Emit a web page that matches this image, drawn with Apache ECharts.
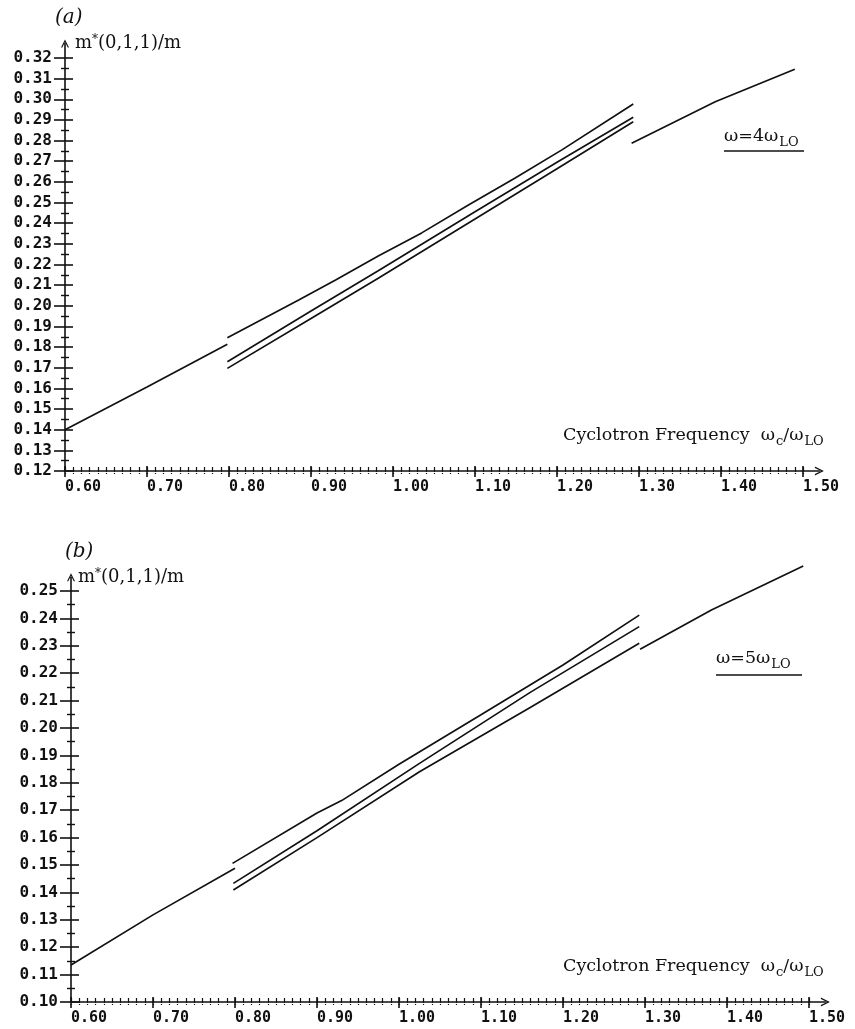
<!DOCTYPE html>
<html><head><meta charset="utf-8">
<script src="https://cdn.jsdelivr.net/npm/echarts@6/dist/echarts.min.js"></script>
<style>html,body{margin:0;padding:0;background:#fff}#c{width:855px;height:1029px}</style>
</head><body><div id="c"></div>
<script>
// ---- tick labels ----
const xTicks = [0.60,0.70,0.80,0.90,1.00,1.10,1.20,1.30,1.40,1.50];
const yTicksA = [0.12,0.13,0.14,0.15,0.16,0.17,0.18,0.19,0.20,0.21,0.22,0.23,0.24,0.25,0.26,0.27,0.28,0.29,0.30,0.31,0.32];
const yTicksB = [0.10,0.11,0.12,0.13,0.14,0.15,0.16,0.17,0.18,0.19,0.20,0.21,0.22,0.23,0.24,0.25];

// ---- panel (a): omega = 4 omega_LO ----
const aLeft   = [[0.600,0.1400],[0.700,0.1607],[0.798,0.1814]];
const aUpper  = [[0.798,0.1845],[0.885,0.2028],[0.930,0.2125],[0.982,0.2241],[1.035,0.2353],[1.092,0.2488],[1.149,0.2619],[1.206,0.2755],[1.293,0.2977]];
const aMiddle = [[0.798,0.1729],[0.900,0.1975],[0.982,0.2170],[1.100,0.2455],[1.200,0.2695],[1.293,0.2913]];
const aLower  = [[0.798,0.1697],[0.900,0.1938],[0.982,0.2133],[1.100,0.2420],[1.200,0.2664],[1.293,0.2891]];
const aRight  = [[1.291,0.2787],[1.393,0.2988],[1.490,0.3145]];

// ---- panel (b): omega = 5 omega_LO ----
const bLeft   = [[0.600,0.1135],[0.700,0.1318],[0.800,0.1488]];
const bUpper  = [[0.797,0.1506],[0.900,0.1690],[0.930,0.1735],[1.000,0.1868],[1.100,0.2048],[1.200,0.2230],[1.293,0.2412]];
const bMiddle = [[0.798,0.1433],[0.900,0.1625],[1.025,0.1871],[1.160,0.2130],[1.293,0.2370]];
const bLower  = [[0.798,0.1409],[0.900,0.1600],[1.025,0.1840],[1.160,0.2075],[1.293,0.2309]];
const bRight  = [[1.294,0.2287],[1.381,0.2431],[1.493,0.2591]];

// ---- helpers ----
function subdivide(ticks, n){
  const out=[];
  for(let i=0;i<ticks.length-1;i++){
    for(let k=0;k<n;k++){ out.push(+(ticks[i]+(ticks[i+1]-ticks[i])*k/n).toFixed(4)); }
  }
  out.push(ticks[ticks.length-1]);
  return out;
}
const INK='#111';
const ARROW='path://M0,10 L5,0 L10,10 L8.4,10 L5,3.2 L1.6,10 Z';
const monoFont='DejaVu Sans Mono';
const serif='DejaVu Serif';

function makeX(grid){
  const base={type:'value',gridIndex:grid,min:0.6,max:1.52,position:'bottom',splitLine:{show:false},
    axisLabel:{show:false},axisLine:{show:false,onZero:false},axisTick:{show:false}};
  return [
    Object.assign({},base,{
      axisLine:{show:true,onZero:false,lineStyle:{color:INK,width:1.6},symbol:['none',ARROW],symbolSize:[9,10]},
      axisTick:{show:true,customValues:xTicks,length:6,lineStyle:{color:INK,width:1.6}},
      axisLabel:{show:true,customValues:xTicks,align:'left',margin:9,color:INK,
        fontFamily:monoFont,fontWeight:'bold',fontSize:15,formatter:v=>v.toFixed(2)}
    }),
    Object.assign({},base,{axisTick:{show:true,inside:true,customValues:xTicks,length:5,lineStyle:{color:INK,width:1.6}}}),
    Object.assign({},base,{axisTick:{show:true,inside:true,customValues:subdivide(xTicks,10),length:4,lineStyle:{color:INK,width:1.2}}}),
    Object.assign({},base,{axisTick:{show:true,customValues:subdivide(xTicks,10),length:3,lineStyle:{color:INK,width:1.2,type:[1,1]}}})
  ];
}
function makeY(grid,ticks,max){
  const base={type:'value',gridIndex:grid,min:ticks[0],max:max,position:'left',splitLine:{show:false},
    axisLabel:{show:false},axisLine:{show:false,onZero:false},axisTick:{show:false}};
  return [
    Object.assign({},base,{
      axisLine:{show:true,onZero:false,lineStyle:{color:INK,width:1.6},symbol:['none',ARROW],symbolSize:[8,9]},
      axisTick:{show:true,customValues:ticks,length:11,lineStyle:{color:INK,width:1.6}},
      axisLabel:{show:true,customValues:ticks,margin:13,color:INK,
        fontFamily:monoFont,fontWeight:'bold',fontSize:16,formatter:v=>v.toFixed(2)}
    }),
    Object.assign({},base,{axisTick:{show:true,inside:true,customValues:ticks,length:8,lineStyle:{color:INK,width:1.6}}}),
    Object.assign({},base,{axisTick:{show:true,customValues:subdivide(ticks,2).filter((v,i)=>i%2===1),length:4,lineStyle:{color:INK,width:1.4}}}),
    Object.assign({},base,{axisTick:{show:true,inside:true,customValues:subdivide(ticks,2).filter((v,i)=>i%2===1),length:4,lineStyle:{color:INK,width:1.4}}})
  ];
}
function line(data,xi,yi,clip){
  return {type:'line',data:data,xAxisIndex:xi,yAxisIndex:yi,showSymbol:false,symbol:'none',
    clip:clip!==false,silent:true,animation:false,lineStyle:{color:INK,width:1.7}};
}
function richName(){
  return {
    n:{fontFamily:serif,fontSize:18,color:INK,lineHeight:22,verticalAlign:'top'},
    sup:{fontFamily:serif,fontSize:12,color:INK,lineHeight:22,verticalAlign:'top',padding:[0,0,10,0]},
    c:{fontFamily:serif,fontSize:17.5,color:INK,lineHeight:22,verticalAlign:'top'},
    cs:{fontFamily:serif,fontSize:13,color:INK,lineHeight:16,verticalAlign:'bottom',padding:[11,0,0,1]}
  };
}
function txt(x,y,text,extra){
  return {type:'text',left:x,top:y,silent:true,style:Object.assign({text:text,fill:INK,rich:richName()},extra||{})};
}

const chart=echarts.init(document.getElementById('c'),null,{renderer:'canvas'});
chart.setOption({
  animation:false,
  backgroundColor:'#fff',
  grid:[
    {left:65,top:43.5,width:754.4,height:427.5},
    {left:71,top:577.3,width:754.4,height:424.7}
  ],
  xAxis:[].concat(makeX(0),makeX(1)),
  yAxis:[].concat(makeY(0,yTicksA,0.327),makeY(1,yTicksB,0.255)),
  series:[
    line(aLeft,0,0),line(aUpper,0,0),line(aMiddle,0,0),line(aLower,0,0),line(aRight,0,0),
    line(bLeft,4,4),line(bUpper,4,4),line(bMiddle,4,4),line(bLower,4,4),line(bRight,4,4,false)
  ],
  graphic:[
    txt(55,8,'(a)',{font:'italic 20px "DejaVu Serif"'}),
    txt(75,34,'{n|m}{sup|*}{n|(0,1,1)/m}'),
    txt(563,424,'{c|Cyclotron Frequency  ω}{cs|c}{c|/ω}{cs|LO}'),
    txt(724,125,'{c|ω=4ω}{cs|LO}'),
    {type:'line',silent:true,shape:{x1:724,y1:151,x2:804,y2:151},style:{stroke:INK,lineWidth:1.6}},

    txt(65,542,'(b)',{font:'italic 20px "DejaVu Serif"'}),
    txt(78,568,'{n|m}{sup|*}{n|(0,1,1)/m}'),
    txt(563,955,'{c|Cyclotron Frequency  ω}{cs|c}{c|/ω}{cs|LO}'),
    txt(716,647,'{c|ω=5ω}{cs|LO}'),
    {type:'line',silent:true,shape:{x1:716,y1:675,x2:802,y2:675},style:{stroke:INK,lineWidth:1.6}}
  ]
});
</script></body></html>
